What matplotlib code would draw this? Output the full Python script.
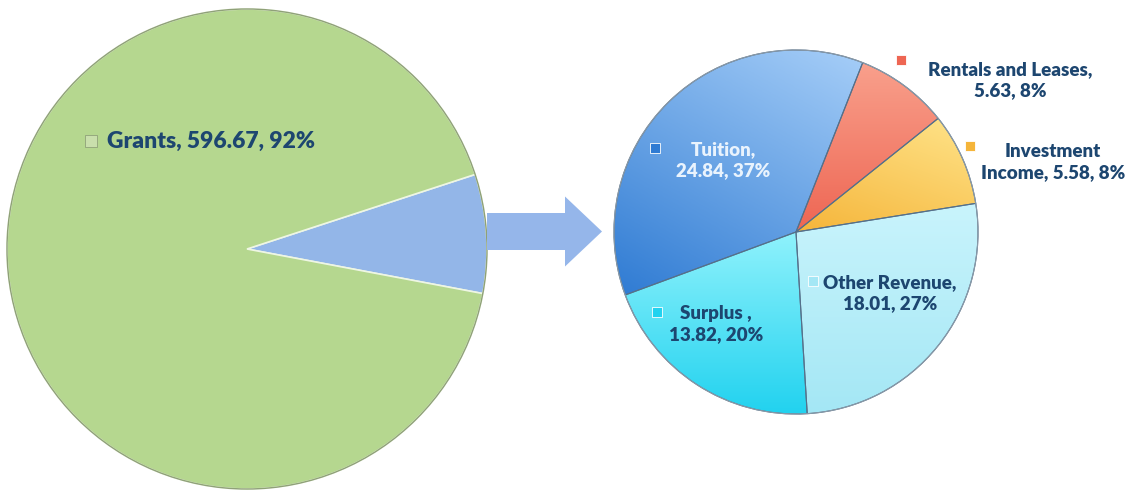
import matplotlib.pyplot as plt
import matplotlib.colors as mcolors
import numpy as np
from matplotlib.patches import FancyArrow

W, H = 1126, 491

# left pie: share of total revenue
left_labels = ['Other', 'Grants']
left_shares = [8, 92]
grants_value = 596.67

# right pie: breakdown of the non-grant part (counter-clockwise order)
right_labels = ['Tuition', 'Surplus ', 'Other Revenue', 'Investment Income', 'Rentals and Leases']
right_values = [24.84, 13.82, 18.01, 5.58, 5.63]
right_pcts = [37, 20, 27, 8, 8]

# light / dark colour of each slice for the gradient fill
right_light = ['#a6cef8', '#8ff2fc', '#c9f4fc', '#ffe48a', '#f9a08c']
right_dark = ['#2f7bd3', '#22d2ef', '#a4e7f5', '#f5b53a', '#ee6653']
grad_angle = [60, 90, 90, 60, 90]

text_col = '#1d4670'

plt.rcParams['font.family'] = ['Lato', 'DejaVu Sans']
plt.rcParams['font.weight'] = 'bold'

fig = plt.figure(figsize=(W / 100, H / 100), dpi=100)
ax = fig.add_axes([0, 0, 1, 1])


def gradient_fill(wedge, c1, c2, angle):
    # paint a linear gradient clipped to the wedge
    x0, y0, x1, y1 = wedge.get_path().get_extents(wedge.get_patch_transform()).extents
    n = 200
    yy, xx = np.mgrid[0:1:n * 1j, 0:1:n * 1j]
    a = np.deg2rad(angle)
    t = xx * np.cos(a) + yy * np.sin(a)
    t = (t - t.min()) / (t.max() - t.min())
    cmap = mcolors.LinearSegmentedColormap.from_list('g', [c2, c1])
    im = ax.imshow(t, cmap=cmap, extent=(x0, x1, y0, y1), origin='lower',
                   zorder=wedge.get_zorder() - 0.5, interpolation='bilinear')
    im.set_clip_path(wedge)
    wedge.set_facecolor('none')


# left pie
lw, _ = ax.pie(left_shares, colors=['#93b6e8', '#b5d78f'], startangle=-10.7,
               center=(247, H - 249), radius=240, counterclock=True,
               wedgeprops=dict(edgecolor='#eef6e4', linewidth=1.2))
ax.add_patch(plt.Circle((247, H - 249), 240, fill=False, ec='#8fa178', lw=1.0, zorder=3))

# right pie
rw, _ = ax.pie(right_values, colors=right_light, startangle=68.5,
               center=(796, H - 232), radius=182, counterclock=True,
               wedgeprops=dict(edgecolor='#55708a', linewidth=0.8))
for w_, c1, c2, ang in zip(rw, right_light, right_dark, grad_angle):
    gradient_fill(w_, c1, c2, ang)
ax.add_patch(plt.Circle((796, H - 232), 182, fill=False, ec='#8a9aa8', lw=0.8, zorder=3))

# arrow between pies
ax.add_patch(FancyArrow(487, H - 231.5, 115, 0, width=37, head_width=70,
                        head_length=37, length_includes_head=True,
                        fc='#95b6ea', ec='none', zorder=4))


def label(mx, my, tx, ty, lines, col, mcol, size=13.5):
    ax.plot(mx, H - my, marker='s', ms=6.5, color=mcol, mec='#ffffff', mew=0.6, zorder=6)
    ax.text(tx, H - ty, '\n'.join(lines), ha='center', va='center', color=col,
            fontsize=size, fontweight='heavy', linespacing=1.3, zorder=6)


ax.plot(91, H - 141, marker='s', ms=8, color='#c9dfac', mec='#8fa178', mew=0.6, zorder=6)
ax.text(107, H - 141, f'{left_labels[1]}, {grants_value:.2f}, {left_shares[1]}%',
        ha='left', va='center', color=text_col, fontsize=16.5, fontweight='heavy', zorder=6)

pos = {
    'Tuition': ((655, 148), (723, 160), '#e9f3fd'),
    'Surplus ': ((657, 312), (716, 324), text_col),
    'Other Revenue': ((813, 281), (890, 293), text_col),
    'Investment Income': ((970, 146), (1053, 162), text_col),
    'Rentals and Leases': ((901, 60), (1010, 80), text_col),
}
for name, v, p, mc in zip(right_labels, right_values, right_pcts, right_dark):
    (mx, my), (tx, ty), col = pos[name]
    if name == 'Investment Income':
        lines = ['Investment', f'Income, {v:.2f}, {p}%']
    else:
        lines = [f'{name},', f'{v:.2f}, {p}%']
    label(mx, my, tx, ty, lines, col, mc)

ax.set_xlim(0, W)
ax.set_ylim(0, H)
ax.set_aspect('auto')
ax.axis('off')

fig.savefig('out.png', dpi=100)
